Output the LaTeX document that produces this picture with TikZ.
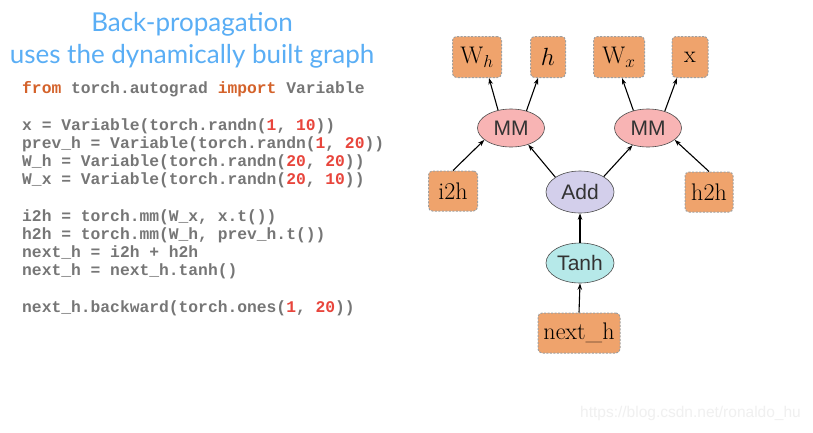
\documentclass[tikz,border=0pt]{standalone}
\usepackage{fontspec}
\setmonofont{Liberation Mono}
\newfontfamily\titlefont{Lato}
\newfontfamily\nodesans{Liberation Sans}
\usetikzlibrary{shapes.geometric,arrows.meta}
\definecolor{titleblue}{HTML}{5AAEF5}
\definecolor{codegray}{HTML}{767676}
\definecolor{kwc}{HTML}{D4622A}
\definecolor{numc}{HTML}{E8453C}
\definecolor{boxorange}{HTML}{EFA36C}
\definecolor{mmpink}{HTML}{F8B4B4}
\definecolor{addlav}{HTML}{D3CFEB}
\definecolor{tanhcyan}{HTML}{B6E9E9}
\definecolor{wmark}{HTML}{F0F0F0}
\newcommand\kwd[1]{\textcolor{kwc}{#1}}
\newcommand\nmb[1]{\textcolor{numc}{#1}}
\tikzset{
  codeline/.style={anchor=base west, inner sep=0pt, text=codegray, font=\fontsize{16.3}{18}\ttfamily\bfseries},
  titletext/.style={inner sep=0pt, text=titleblue, font=\fontsize{26}{30}\titlefont},
  varbox/.style={draw=gray!75, dashed, dash pattern=on 2pt off 1.5pt, line width=1pt, fill=boxorange, rounded corners=4pt, minimum height=41pt, inner sep=2pt, font=\fontsize{24}{26}\selectfont},
  opnode/.style={ellipse, draw=black!70, line width=0.6pt, minimum width=67pt, minimum height=38pt, inner sep=0pt, text=black!80, font=\fontsize{21}{24}\nodesans},
  edge/.style={line width=1.1pt, -{Stealth[length=6.5pt,width=4.5pt]}}
}
\begin{document}
\begin{tikzpicture}[x=1pt,y=-1pt]
\useasboundingbox[fill=white] (0,0) rectangle (813,432);
% title
\node[titletext] (t1) at (192,24) {Back-propagation};
\node[titletext] (t2) at (192,56) {uses the dynamically built graph};
% code
\node[codeline] (c1) at (22,93) {\kwd{from} torch.autograd \kwd{import} Variable};
\node[codeline] (c2) at (22,130) {x = Variable(torch.randn(\nmb{1}, \nmb{10}))};
\node[codeline] (c3) at (22,148) {prev\_h = Variable(torch.randn(\nmb{1}, \nmb{20}))};
\node[codeline] (c4) at (22,166) {W\_h = Variable(torch.randn(\nmb{20}, \nmb{20}))};
\node[codeline] (c5) at (22,184) {W\_x = Variable(torch.randn(\nmb{20}, \nmb{10}))};
\node[codeline] (c6) at (22,221) {i2h = torch.mm(W\_x, x.t())};
\node[codeline] (c7) at (22,239) {h2h = torch.mm(W\_h, prev\_h.t())};
\node[codeline] (c8) at (22,257) {next\_h = i2h + h2h};
\node[codeline] (c9) at (22,275) {next\_h = next\_h.tanh()};
\node[codeline] (c10) at (22,312) {next\_h.backward(torch.ones(\nmb{1}, \nmb{20}))};
% graph nodes
\node[varbox, minimum width=49pt] (wh) at (477,57) {$\mathrm{W}_h$};
\node[varbox, minimum width=35pt] (h) at (548,57) {$h$};
\node[varbox, minimum width=51pt] (wx) at (619,57) {$\mathrm{W}_x$};
\node[varbox, minimum width=36pt] (x) at (690,57) {x};
\node[opnode, fill=mmpink] (mml) at (511,128) {MM};
\node[opnode, fill=mmpink] (mmr) at (648,128) {MM};
\node[varbox, minimum width=49pt, minimum height=40pt] (i2h) at (453,191) {i2h};
\node[opnode, fill=addlav, minimum width=68pt, minimum height=42pt] (add) at (580,192) {Add};
\node[varbox, minimum width=48pt, minimum height=40pt] (h2h) at (709,192) {h2h};
\node[opnode, fill=tanhcyan, minimum width=68pt, minimum height=40pt] (tanh) at (580,263) {Tanh};
\node[varbox, minimum width=82pt, minimum height=40pt] (nh) at (579,333) {next\_h};
% connectors
\draw[edge] (mml.126) -- ([xshift=12pt]wh.south);
\draw[edge] (mml.48) -- ([xshift=-10pt]h.south);
\draw[edge] (mmr.130) -- ([xshift=3pt]wx.south);
\draw[edge] (mmr.45) -- ([xshift=-13pt]x.south);
\draw[edge] (i2h.north) -- (mml.204);
\draw[edge] (add.149) -- (mml.316);
\draw[edge] (add.33) -- (mmr.228);
\draw[edge] (h2h.north) -- (mmr.336);
\draw[edge] (tanh.north) -- (add.south);
\draw[edge] (nh.north) -- (tanh.south);
% watermark
\node[anchor=west, inner sep=0pt, text=wmark, font=\fontsize{15.5}{17}\nodesans] (wm) at (580,413) {https://blog.csdn.net/ronaldo\_hu};
\end{tikzpicture}
\end{document}
